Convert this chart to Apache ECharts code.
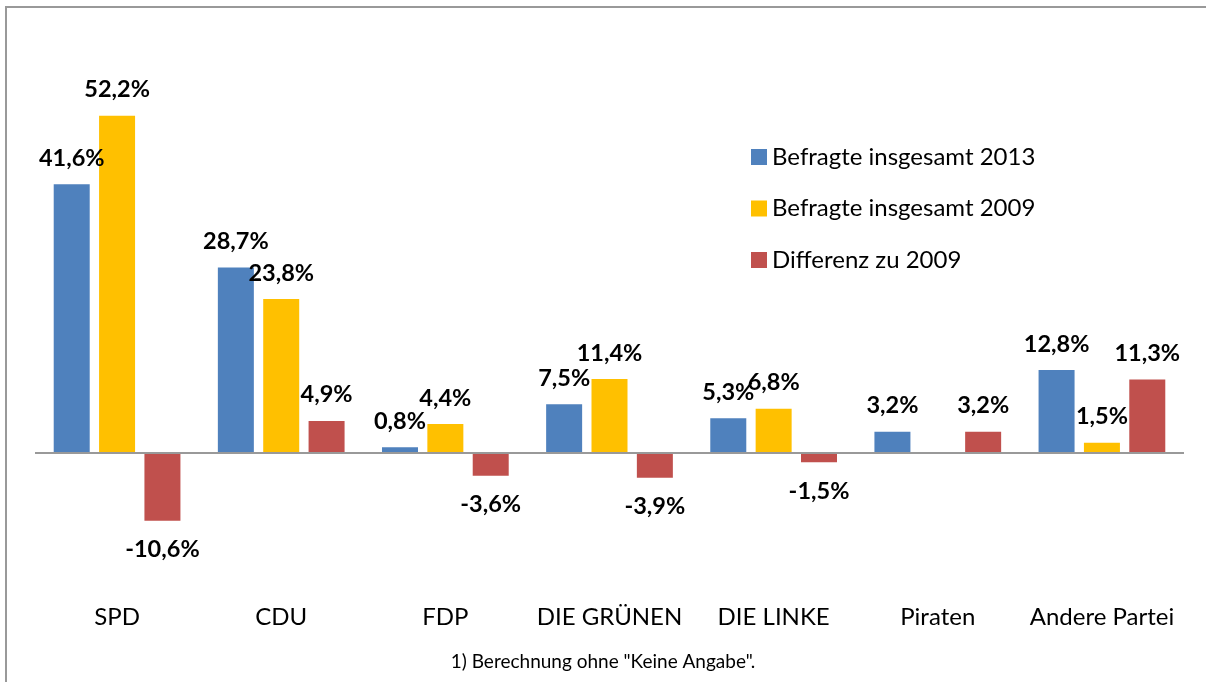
<!DOCTYPE html>
<html>
<head>
<meta charset="utf-8">
<title>Befragte insgesamt 2013 / 2009</title>
<script src="https://cdn.jsdelivr.net/npm/echarts@6/dist/echarts.min.js"></script>
<style>
  html, body { margin: 0; padding: 0; background: #fff; }
  #chart { width: 1206px; height: 682px; }
</style>
</head>
<body>
<div id="chart"></div>
<script>
  const parties = ["SPD", "CDU", "FDP", "DIE GRÜNEN", "DIE LINKE", "Piraten", "Andere Partei"];
  const seriesNames = ["Befragte insgesamt 2013", "Befragte insgesamt 2009", "Differenz zu 2009"];
  const values2013 = [41.6, 28.7, 0.8, 7.5, 5.3, 3.2, 12.8];
  const values2009 = [52.2, 23.8, 4.4, 11.4, 6.8, null, 1.5];
  const diffTo2009 = [-10.6, 4.9, -3.6, -3.9, -1.5, 3.2, 11.3];
  const colors = ["#4F81BD", "#FFC000", "#C0504D"];
  const footnote = '1) Berechnung ohne "Keine Angabe".';

  const FONT = "Lato, 'Noto Sans', sans-serif";

  function fmt(v) {
    return v.toFixed(1).replace(".", ",") + "%";
  }

  function toItems(values) {
    return values.map((v) => {
      if (v === null) return "-";
      return {
        value: v,
        label: v < 0 ? { position: "bottom", distance: 17 } : { position: "top", distance: 14 },
      };
    });
  }

  function makeSeries(name, values) {
    return {
      name: name,
      type: "bar",
      barWidth: 36,
      barGap: "26%",
      data: toItems(values),
      label: {
        show: true,
        formatter: (p) => fmt(p.value),
        color: "#000",
        fontFamily: FONT,
        fontWeight: "bold",
        fontSize: 23.5,
      },
    };
  }

  const series = [
    makeSeries(seriesNames[0], values2013),
    makeSeries(seriesNames[1], values2009),
    makeSeries(seriesNames[2], diffTo2009),
  ];
  // zero line drawn as a markLine, the category labels stay at the bottom
  series[0].markLine = {
    silent: true,
    symbol: "none",
    label: { show: false },
    lineStyle: { color: "#999", width: 2, type: "solid" },
    data: [{ yAxis: 0 }],
  };

  const chart = echarts.init(document.getElementById("chart"));
  chart.setOption({
    backgroundColor: "#fff",
    animation: false,
    color: colors,
    textStyle: { fontFamily: FONT },
    grid: { left: 35, right: 22, top: 65.5, bottom: 132.75, outerBoundsMode: "none" },
    legend: {
      orient: "vertical",
      left: 746,
      top: 140,
      itemWidth: 16,
      itemHeight: 16,
      itemGap: 27.5,
      icon: "rect",
      textStyle: { fontFamily: FONT, fontSize: 24, color: "#000" },
      data: seriesNames,
    },
    xAxis: {
      type: "category",
      data: parties,
      axisLine: { show: false, onZero: false },
      axisTick: { show: false },
      axisLabel: { margin: 56, fontFamily: FONT, fontSize: 24, color: "#000", interval: 0 },
    },
    yAxis: {
      type: "value",
      min: -15,
      max: 60,
      show: false,
      splitLine: { show: false },
    },
    series: series,
    graphic: [
      {
        type: "polyline",
        shape: { points: [[6, 682], [6, 7], [1206, 7]] },
        style: { stroke: "#999", lineWidth: 2, fill: null },
      },
      {
        type: "text",
        left: "center",
        top: 652,
        style: { text: footnote, fontFamily: FONT, fontSize: 19, fill: "#000" },
      },
    ],
  });
</script>
</body>
</html>
